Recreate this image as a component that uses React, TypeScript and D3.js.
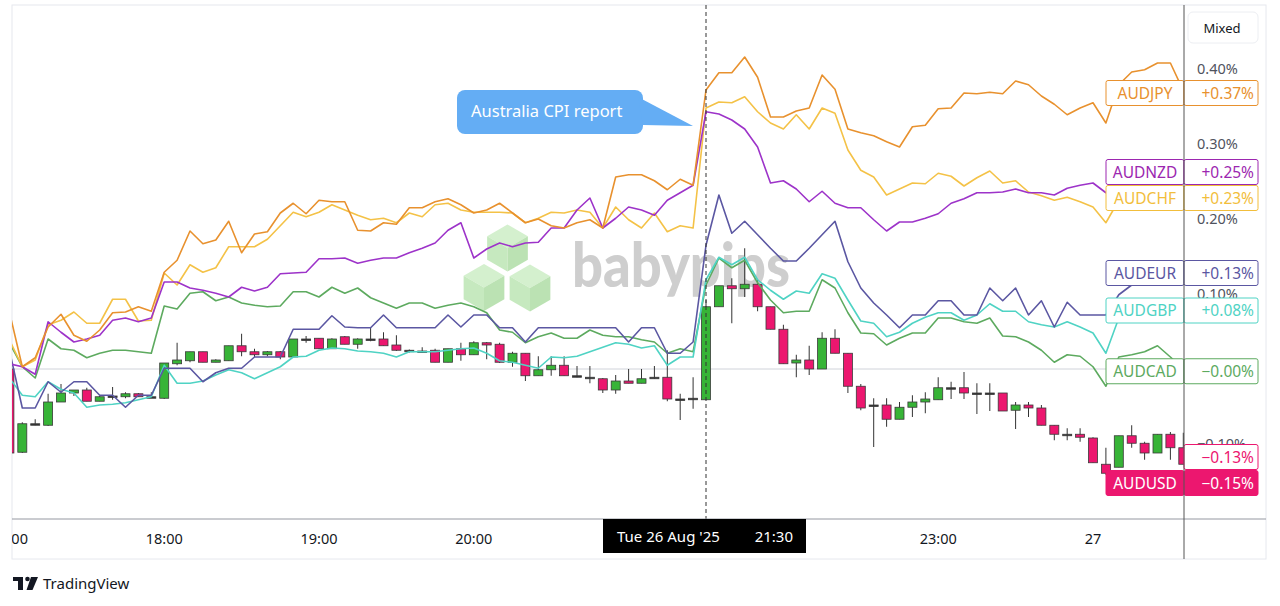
import React from "react";
import * as d3 from "d3";

// AUDUSD 5-minute candles, % change from the session start (17:00)
const usdOpen = [
  0, -0.111, -0.073, -0.075, -0.044, -0.032, -0.028, -0.043, -0.036, -0.037, -0.033, -0.037,
  -0.039, 0.007, 0.011, 0.023, 0.009, 0.011, 0.031, 0.023, 0.019, 0.023, 0.016, 0.04,
  0.041, 0.027, 0.043, 0.033, 0.04, 0.04, 0.032, 0.025, 0.023, 0.025, 0.009, 0.027,
  0.019, 0.035, 0.033, 0.009, 0.021, -0.009, -0.001, 0.005, -0.009, -0.011, -0.013, -0.028,
  -0.016, -0.019, -0.013, -0.011, -0.04, -0.039, -0.041, 0.083, 0.111, 0.107, 0.113, 0.083,
  0.053, 0.008, 0.012, 0, 0.041, 0.021, -0.023, -0.049, -0.048, -0.067, -0.051, -0.044,
  -0.041, -0.025, -0.025, -0.032, -0.032, -0.032, -0.055, -0.048, -0.052, -0.075, -0.087, -0.087,
  -0.092, -0.127, -0.131, -0.089, -0.099, -0.112, -0.087, -0.105,
];
const usdHigh = [
  0.004, -0.071, -0.067, -0.033, -0.02, -0.028, -0.025, -0.036, -0.024, -0.031, -0.032, -0.031,
  0.008, 0.035, 0.023, 0.023, 0.013, 0.031, 0.047, 0.027, 0.024, 0.024, 0.04, 0.044,
  0.041, 0.041, 0.044, 0.041, 0.056, 0.049, 0.045, 0.026, 0.029, 0.027, 0.027, 0.035,
  0.037, 0.036, 0.035, 0.023, 0.021, 0.017, 0.017, 0.017, 0.004, 0.004, -0.012, -0.008,
  0, 0, 0.004, 0.025, -0.033, -0.011, 0.092, 0.111, 0.121, 0.161, 0.119, 0.083,
  0.059, 0.019, 0.031, 0.049, 0.053, 0.021, -0.02, -0.039, -0.039, -0.044, -0.035, -0.031,
  -0.011, -0.017, -0.004, -0.019, -0.019, -0.032, -0.044, -0.044, -0.048, -0.075, -0.079, -0.079,
  -0.091, -0.105, -0.089, -0.075, -0.097, -0.087, -0.084, -0.085,
];
const usdLow = [
  -0.113, -0.112, -0.075, -0.076, -0.044, -0.036, -0.043, -0.043, -0.041, -0.039, -0.037, -0.038,
  -0.04, 0.005, 0.009, 0.009, 0.009, 0.011, 0.017, 0.016, 0.017, 0.013, 0.016, 0.035,
  0.027, 0.027, 0.033, 0.027, 0.037, 0.031, 0.024, 0.022, 0.022, 0.009, 0.009, 0.011,
  0.019, 0.013, 0.008, 0.003, -0.016, -0.009, -0.009, -0.009, -0.011, -0.019, -0.032, -0.033,
  -0.019, -0.019, -0.013, -0.043, -0.068, -0.053, -0.041, 0.083, 0.061, 0.096, 0.077, 0.053,
  0.007, -0.011, -0.008, 0, 0.021, -0.032, -0.055, -0.104, -0.077, -0.067, -0.064, -0.059,
  -0.041, -0.04, -0.04, -0.06, -0.056, -0.056, -0.08, -0.064, -0.075, -0.095, -0.095, -0.097,
  -0.125, -0.141, -0.131, -0.105, -0.121, -0.112, -0.121, -0.127,
];
const usdClose = [
  -0.112, -0.073, -0.073, -0.044, -0.032, -0.028, -0.043, -0.037, -0.036, -0.033, -0.037, -0.037,
  0.008, 0.012, 0.023, 0.009, 0.012, 0.031, 0.023, 0.019, 0.023, 0.016, 0.04, 0.04,
  0.027, 0.04, 0.033, 0.04, 0.04, 0.031, 0.025, 0.023, 0.024, 0.009, 0.027, 0.019,
  0.035, 0.032, 0.009, 0.021, -0.009, -0.001, 0.005, -0.009, -0.009, -0.013, -0.028, -0.016,
  -0.019, -0.013, -0.011, -0.04, -0.04, -0.041, 0.083, 0.111, 0.107, 0.113, 0.083, 0.053,
  0.007, 0.012, 0, 0.041, 0.021, -0.023, -0.052, -0.048, -0.067, -0.051, -0.044, -0.04,
  -0.025, -0.025, -0.032, -0.032, -0.032, -0.056, -0.048, -0.052, -0.075, -0.087, -0.087, -0.091,
  -0.125, -0.139, -0.089, -0.099, -0.112, -0.087, -0.105, -0.127,
];

// compared symbols, % change
const audjpy = [
  0.076, 0.003, 0.015, 0.056, 0.073, 0.045, 0.037, 0.052, 0.075, 0.076, 0.083, 0.077,
  0.129, 0.145, 0.184, 0.167, 0.172, 0.197, 0.155, 0.18, 0.183, 0.208, 0.221, 0.207,
  0.225, 0.223, 0.223, 0.185, 0.184, 0.195, 0.193, 0.215, 0.215, 0.223, 0.227, 0.219,
  0.208, 0.212, 0.221, 0.208, 0.195, 0.2, 0.191, 0.188, 0.195, 0.199, 0.188, 0.256,
  0.259, 0.259, 0.251, 0.239, 0.253, 0.245, 0.372, 0.395, 0.395, 0.416, 0.389, 0.336,
  0.336, 0.344, 0.348, 0.392, 0.373, 0.32, 0.315, 0.311, 0.303, 0.296, 0.323, 0.325,
  0.347, 0.348, 0.368, 0.367, 0.369, 0.367, 0.384, 0.379, 0.364, 0.353, 0.339, 0.348,
  0.355, 0.328, 0.379, 0.396, 0.399, 0.408, 0.408, 0.371,
];
const audchf = [
  0.039, 0.003, 0.012, 0.059, 0.065, 0.076, 0.061, 0.061, 0.093, 0.093, 0.064, 0.065,
  0.128, 0.112, 0.139, 0.129, 0.135, 0.163, 0.163, 0.163, 0.173, 0.191, 0.209, 0.203,
  0.209, 0.219, 0.212, 0.205, 0.199, 0.201, 0.195, 0.208, 0.203, 0.219, 0.221, 0.212,
  0.209, 0.209, 0.209, 0.208, 0.195, 0.201, 0.209, 0.208, 0.212, 0.209, 0.188, 0.216,
  0.199, 0.188, 0.208, 0.183, 0.191, 0.188, 0.348, 0.356, 0.355, 0.363, 0.343, 0.328,
  0.32, 0.339, 0.32, 0.348, 0.341, 0.292, 0.265, 0.256, 0.232, 0.24, 0.248, 0.247,
  0.261, 0.257, 0.244, 0.255, 0.264, 0.248, 0.251, 0.236, 0.231, 0.225, 0.229, 0.223,
  0.216, 0.195, 0.225, 0.228, 0.229, 0.231, 0.229, 0.229,
];
const audnzd = [
  0.007, 0.003, -0.007, 0.063, 0.049, 0.036, 0.04, 0.045, 0.065, 0.068, 0.063, 0.068,
  0.116, 0.116, 0.108, 0.105, 0.101, 0.096, 0.109, 0.104, 0.109, 0.127, 0.128, 0.129,
  0.147, 0.147, 0.148, 0.141, 0.145, 0.148, 0.148, 0.155, 0.161, 0.168, 0.185, 0.195,
  0.148, 0.16, 0.168, 0.163, 0.168, 0.169, 0.188, 0.188, 0.212, 0.228, 0.188, 0.201,
  0.216, 0.212, 0.205, 0.225, 0.235, 0.245, 0.343, 0.34, 0.332, 0.32, 0.296, 0.248,
  0.251, 0.24, 0.223, 0.237, 0.221, 0.215, 0.215, 0.199, 0.184, 0.196, 0.196, 0.201,
  0.207, 0.221, 0.227, 0.235, 0.235, 0.236, 0.24, 0.235, 0.235, 0.232, 0.241, 0.245,
  0.248, 0.235, 0.239, 0.241, 0.244, 0.245, 0.248, 0.249,
];
const audeur = [
  0.025, -0.052, -0.052, -0.017, -0.031, -0.017, -0.017, -0.035, -0.035, -0.051, -0.035, -0.035,
  0.001, 0.001, 0.001, -0.017, -0.005, 0.001, 0.001, 0.016, 0.016, 0.016, 0.053, 0.053,
  0.053, 0.071, 0.056, 0.055, 0.055, 0.072, 0.055, 0.055, 0.055, 0.055, 0.072, 0.056,
  0.072, 0.072, 0.055, 0.055, 0.036, 0.055, 0.055, 0.055, 0.055, 0.055, 0.055, 0.055,
  0.036, 0.055, 0.055, 0.021, 0.021, 0.036, 0.165, 0.232, 0.181, 0.197, 0.179, 0.161,
  0.144, 0.144, 0.161, 0.179, 0.197, 0.143, 0.108, 0.088, 0.072, 0.055, 0.072, 0.072,
  0.091, 0.091, 0.072, 0.072, 0.108, 0.091, 0.108, 0.072, 0.091, 0.056, 0.089, 0.072,
  0.072, 0.072, 0.099, 0.112, 0.119, 0.121, 0.125, 0.129,
];
const audgbp = [
  -0.012, -0.035, -0.037, -0.017, -0.027, -0.032, -0.051, -0.048, -0.047, -0.045, -0.041, -0.037,
  0.005, -0.019, -0.019, -0.016, -0.008, -0.001, -0.005, -0.013, -0.005, 0.003, 0.016, 0.017,
  0.025, 0.028, 0.027, 0.024, 0.023, 0.021, 0.016, 0.023, 0.023, 0.023, 0.025, 0.027,
  0.028, 0.021, 0.011, 0.009, 0.005, 0.001, 0.016, 0.015, 0.017, 0.023, 0.029, 0.035,
  0.033, 0.028, 0.031, 0.005, 0.016, 0.016, 0.119, 0.149, 0.139, 0.149, 0.119, 0.105,
  0.093, 0.104, 0.101, 0.127, 0.121, 0.092, 0.064, 0.061, 0.043, 0.049, 0.061, 0.069,
  0.075, 0.075, 0.065, 0.072, 0.087, 0.077, 0.077, 0.063, 0.059, 0.056, 0.063, 0.056,
  0.048, 0.021, 0.068, 0.076, 0.079, 0.079, 0.08, 0.08,
];
const audcad = [
  0.035, 0.003, -0.012, 0.04, 0.027, 0.025, 0.015, 0.021, 0.025, 0.025, 0.023, 0.021,
  0.084, 0.08, 0.101, 0.103, 0.091, 0.096, 0.088, 0.085, 0.083, 0.084, 0.103, 0.103,
  0.096, 0.109, 0.101, 0.108, 0.095, 0.088, 0.081, 0.088, 0.088, 0.081, 0.085, 0.088,
  0.083, 0.075, 0.052, 0.049, 0.035, 0.043, 0.048, 0.041, 0.041, 0.052, 0.045, 0.043,
  0.043, 0.039, 0.036, 0.021, 0.027, 0.023, 0.112, 0.148, 0.135, 0.145, 0.115, 0.092,
  0.075, 0.077, 0.077, 0.119, 0.108, 0.075, 0.048, 0.047, 0.032, 0.041, 0.048, 0.048,
  0.068, 0.068, 0.063, 0.061, 0.068, 0.044, 0.043, 0.036, 0.025, 0.009, 0.019, 0.017,
  0.003, -0.023, 0.016, 0.019, 0.023, 0.031, 0.016, 0,
];

const lineSeries = [audcad, audgbp, audeur, audchf, audnzd, audjpy];
const lineColors = ["#5DAA5F", "#4FD3C4", "#5B57A2", "#F4C247", "#9D33C9", "#E8912E"];

// price-scale labels on the right
const labelNames = ["AUDJPY", "AUDNZD", "AUDCHF", "AUDEUR", "AUDGBP", "AUDCAD", "", "AUDUSD"];
const labelValues = [0.37, 0.25, 0.23, 0.13, 0.08, -0.001, -0.13, -0.15];
const labelColors = ["#E8912E", "#9C27B0", "#F2BE3C", "#5B57A2", "#4FD3C4", "#5DAA5F", "#EC176F", "#EC176F"];
const labelFilled = [false, false, false, false, false, false, false, true];

const priceTicks = [-0.1, 0, 0.1, 0.2, 0.3, 0.4];
const crossIndex = 54;
const calloutText = "Australia CPI report";

const UP = "#37B437";
const DOWN = "#EC176F";
const FONT = "'Noto Sans', 'Open Sans', sans-serif";

const start = new Date(2025, 7, 26, 17, 0);
const barTimes = d3.timeMinute.every(5)!.range(start, new Date(2025, 7, 27, 0, 40));

function Cube({ cx, cy, r }: { cx: number; cy: number; r: number }) {
  const w = (r * Math.sqrt(3)) / 2;
  const top = [cx, cy - r], ur = [cx + w, cy - r / 2], lr = [cx + w, cy + r / 2];
  const bot = [cx, cy + r], ll = [cx - w, cy + r / 2], ul = [cx - w, cy - r / 2];
  const c = [cx, cy];
  const p = (pts: number[][]) => "M" + pts.map((q) => q.join(",")).join("L") + "Z";
  return (
    <g opacity={0.85}>
      <path d={p([top, ur, c, ul])} fill="#cdeec6" />
      <path d={p([ul, c, bot, ll])} fill="#bde6b4" />
      <path d={p([c, ur, lr, bot])} fill="#b0dea6" />
    </g>
  );
}

export default function App() {
  const x = d3.scaleTime().domain([barTimes[0], barTimes[barTimes.length - 1]]).range([9.4, 1183.3]);
  const y = d3.scaleLinear().domain([-0.1, 0.4]).range([444, 69]);
  const pane = { left: 12, right: 1184, top: 5, bottom: 519 };

  const line = d3
    .line<number>()
    .x((_, i) => x(barTimes[i]))
    .y((v) => y(v));

  // stack labels bottom-up so they don't overlap
  const lh = 26;
  const order = labelValues.map((v, i) => ({ i, y: y(v) + 1.5 })).sort((a, b) => b.y - a.y);
  const placed: Record<number, number> = {};
  let prev = Infinity;
  order.forEach((o) => {
    const yy = Math.min(o.y, prev - lh);
    placed[o.i] = yy;
    prev = yy;
  });
  // a tick label sitting right under a series label is hidden, as in TradingView
  const visibleTicks = priceTicks.filter((v) => !Object.values(placed).some((ly) => Math.abs(ly - y(v)) < 8));

  const fmt = d3.format("+.2f");
  const cx = x(barTimes[crossIndex]);
  const timeFmt = (d: Date) => (d.getHours() === 0 ? d3.timeFormat("%-d")(d) : d3.timeFormat("%H:%M")(d));
  const hourTicks = x.ticks(d3.timeHour.every(1)!);
  const crossBox = { x0: cx - 103, x1: cx + 100 };

  return (
    <svg width={1280} height={606} style={{ position: "absolute", left: 0, top: 0 }} fontFamily={FONT}>
      <defs>
        <clipPath id="pane">
          <rect x={pane.left} y={pane.top} width={pane.right - pane.left} height={pane.bottom - pane.top} />
        </clipPath>
        <clipPath id="timeAxis">
          <rect x={pane.left} y={pane.bottom} width={pane.right - pane.left} height={40} />
        </clipPath>
      </defs>
      <rect width={1280} height={606} fill="#fff" />
      <rect x={pane.left} y={pane.top} width={1266 - pane.left} height={559 - pane.top} fill="none" stroke="#e6e8ee" />

      {/* zero line */}
      <line x1={pane.left} x2={pane.right} y1={y(0)} y2={y(0)} stroke="#d0d3da" />

      {/* watermark */}
      <g>
        <Cube cx={507.5} cy={248} r={23.5} />
        <Cube cx={484} cy={287.5} r={23.5} />
        <Cube cx={530} cy={288} r={23.5} />
        <text x={572} y={287} fontFamily="Lato, 'Open Sans', sans-serif" fontWeight={900} fontSize={60} fill="#c6c6c6" opacity={0.85} textLength={218} lengthAdjust="spacingAndGlyphs">
          babypips
        </text>
      </g>

      <g clipPath="url(#pane)">
        {barTimes.map((t, i) => {
          const o = usdOpen[i], c = usdClose[i];
          const up = c >= o;
          const top = y(Math.max(o, c));
          const bot = y(Math.min(o, c));
          const h = Math.max(bot - top, 1.5);
          const doji = bot - top < 2;
          const bx = x(t);
          return (
            <g key={i}>
              <line x1={bx} x2={bx} y1={y(usdHigh[i])} y2={y(usdLow[i])} stroke="#333" strokeWidth={1} />
              <rect x={bx - 4.5} y={top} width={9} height={h} fill={doji ? "#333" : up ? UP : DOWN} stroke="#3a3a3a" strokeWidth={0.8} />
            </g>
          );
        })}
        {lineSeries.map((s, k) => (
          <path key={k} d={line(s) || ""} fill="none" stroke={lineColors[k]} strokeWidth={1.6} strokeLinejoin="round" />
        ))}
      </g>

      {/* crosshair */}
      <line x1={cx} x2={cx} y1={pane.top} y2={pane.bottom} stroke="#333" strokeDasharray="4 3" strokeWidth={1} />

      {/* callout */}
      <g>
        <rect x={457} y={90} width={186} height={44} rx={8} fill="#64adf4" />
        <path d="M638,97 L693,126 L643,125 Z" fill="#64adf4" />
        <text x={471} y={117} fill="#fff" fontSize={16.5}>{calloutText}</text>
      </g>

      {/* price axis */}
      {visibleTicks.map((v) => (
        <text key={v} x={1197} y={y(v)} dy="0.35em" fontSize={14.5} fill="#50535e">
          {(v < 0 ? "−" : "") + Math.abs(v).toFixed(2) + "%"}
        </text>
      ))}

      {labelValues.map((v, i) => {
        const yy = placed[i];
        const col = labelColors[i];
        const filled = labelFilled[i];
        const txt = filled ? "#fff" : col;
        return (
          <g key={i}>
            {labelNames[i] && (
              <>
                <rect x={1106} y={yy - 12.5} width={78} height={25} rx={2} fill={filled ? col : "#fff"} stroke={col} />
                <text x={1145} y={yy} dy="0.36em" textAnchor="middle" fontSize={15.5} fill={txt}>{labelNames[i]}</text>
              </>
            )}
            <rect x={1184} y={yy - 12.5} width={74} height={25} rx={2} fill={filled ? col : "#fff"} stroke={col} />
            <text x={1254} y={yy} dy="0.36em" textAnchor="end" fontSize={15.5} fill={txt}>{fmt(v) + "%"}</text>
          </g>
        );
      })}

      {/* time axis */}
      <line x1={pane.left} x2={1266} y1={pane.bottom} y2={pane.bottom} stroke="#9598a1" />
      <g clipPath="url(#timeAxis)">
        {hourTicks
          .filter((t) => {
            const tx = x(t);
            return tx < crossBox.x0 - 20 || tx > crossBox.x1 + 20;
          })
          .map((t) => (
            <text key={+t} x={x(t)} y={539} dy="0.35em" textAnchor="middle" fontSize={14.5} fill="#131722">
              {timeFmt(t)}
            </text>
          ))}
      </g>
      <rect x={crossBox.x0} y={pane.bottom} width={crossBox.x1 - crossBox.x0} height={34} fill="#000" />
      <text x={crossBox.x0 + 14} y={537} dy="0.35em" fontSize={15} fill="#fff">
        {d3.timeFormat("%a %d %b '%y")(barTimes[crossIndex])}
      </text>
      <text x={crossBox.x1 - 13} y={537} dy="0.35em" textAnchor="end" fontSize={15} fill="#fff">
        {d3.timeFormat("%H:%M")(barTimes[crossIndex])}
      </text>

      {/* price axis separator */}
      <line x1={pane.right} x2={pane.right} y1={pane.top} y2={559} stroke="#555" />

      {/* scale mode button */}
      <rect x={1188} y={12} width={70} height={31} rx={5} fill="#fff" stroke="#eceef2" />
      <text x={1222} y={28} dy="0.35em" textAnchor="middle" fontSize={13} fill="#131722">Mixed</text>

      {/* TradingView logo */}
      <g fill="#131722">
        <rect x={13} y={577} width={10} height={4} />
        <rect x={18} y={577} width={5} height={13} />
        <circle cx={27.5} cy={579} r={2.3} />
        <path d="M31,577 L38,577 L32.5,590 L26.5,590 Z" />
      </g>
      <text x={43} y={584} dy="0.35em" fontSize={15} fill="#131722">TradingView</text>
    </svg>
  );
}
